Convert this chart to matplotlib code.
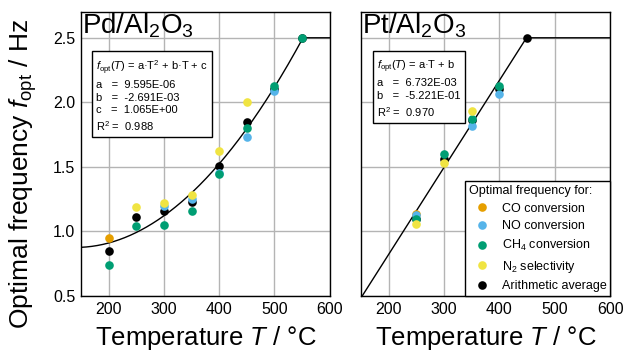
import numpy as np
import matplotlib.pyplot as plt
from matplotlib.lines import Line2D

plt.rcParams['font.family'] = ['Liberation Sans', 'DejaVu Sans']
plt.rcParams['mathtext.fontset'] = 'custom'
plt.rcParams['mathtext.rm'] = 'Liberation Sans'
plt.rcParams['mathtext.it'] = 'Liberation Sans:italic'

nan = np.nan

# Pd/Al2O3 optimal frequencies (Hz)
T_pd = [200, 250, 300, 350, 400, 450, 500, 550]
co_pd = [0.95, nan, nan, nan, nan, nan, nan, nan]
no_pd = [nan, nan, 1.20, 1.25, 1.45, 1.73, 2.085, nan]
ch4_pd = [0.74, 1.045, 1.05, 1.16, 1.445, 1.80, 2.13, 2.5]
n2_pd = [nan, 1.19, 1.22, 1.285, 1.62, 2.0, nan, nan]
avg_pd = [0.85, 1.115, 1.155, 1.23, 1.51, 1.85, 2.10, 2.5]
fit_pd = dict(a=9.595e-06, b=-2.691e-03, c=1.065e+00, r2=0.988)

# Pt/Al2O3 optimal frequencies (Hz)
T_pt = [250, 300, 350, 400, 450]
co_pt = [1.135, nan, nan, nan, nan]
no_pt = [1.13, nan, 1.82, 2.065, nan]
ch4_pt = [1.10, 1.60, 1.87, 2.13, nan]
n2_pt = [1.06, 1.53, 1.93, nan, nan]
avg_pt = [1.10, 1.565, 1.86, 2.10, 2.5]
fit_pt = dict(a=6.732e-03, b=-5.221e-01, r2=0.970)

f_max = 2.5
colors = ['#E69F00', '#56B4E9', '#009E73', '#F0E442', 'black']
labels = ['CO conversion', 'NO conversion', 'CH$_4$ conversion',
          'N$_2$ selectivity', 'Arithmetic average']

fig = plt.figure(figsize=(6.27, 3.52), dpi=100)
ax1 = fig.add_axes([0.129, 0.159, 0.397, 0.807])
ax2 = fig.add_axes([0.576, 0.159, 0.397, 0.807])


def style(ax, title):
    ax.set_xlim(150, 600)
    ax.set_ylim(0.5, 2.7)
    ax.set_xticks([200, 300, 400, 500, 600])
    ax.set_yticks([0.5, 1.0, 1.5, 2.0, 2.5])
    ax.grid(True, color='#b4b4b4', lw=1)
    ax.set_axisbelow(True)
    ax.tick_params(length=0, labelsize=11.5, pad=4)
    for s in ax.spines.values():
        s.set_linewidth(1.0)
    ax.set_xlabel('Temperature $T$ / \u00b0C', fontsize=18.5, labelpad=5)
    ax.text(0.005, 1.0, title, transform=ax.transAxes, fontsize=20,
            va='top', ha='left')


def points(ax, T, series):
    # average goes underneath the individual targets
    ax.plot(T, series[-1], 'o', color=colors[-1], ms=6.2, mec='none', zorder=3)
    for vals, c in zip(series[:-1], colors[:-1]):
        ax.plot(T, vals, 'o', color=c, ms=6.2, mec='none', zorder=4)


# Pd: quadratic fit capped at f_max
T = np.linspace(150, 600, 500)
f = fit_pd['a'] * T**2 + fit_pd['b'] * T + fit_pd['c']
ax1.plot(T, np.minimum(f, f_max), color='black', lw=1, zorder=2)
points(ax1, T_pd, [co_pd, no_pd, ch4_pd, n2_pd, avg_pd])
style(ax1, 'Pd/Al$_2$O$_3$')
ax1.set_ylabel('Optimal frequency $f_\\mathrm{opt}$ / Hz', fontsize=19)
ax1.yaxis.set_label_coords(-0.17, 0.43)
ax1.text(0.06, 0.835,
         '$f_\\mathrm{opt}(T)$ = a\u00b7T$^2$ + b\u00b7T + c\n'
         'a   =  %.3E\nb   =  %.3E\nc   =  %.3E\nR$^2$ =  %.3f'
         % (fit_pd['a'], fit_pd['b'], fit_pd['c'], fit_pd['r2']),
         transform=ax1.transAxes, fontsize=8, va='top', ha='left',
         linespacing=1.35,
         bbox=dict(boxstyle='square,pad=0.35', fc='white', ec='black', lw=1))

# Pt: linear fit capped at f_max
f = fit_pt['a'] * T + fit_pt['b']
ax2.plot(T, np.minimum(f, f_max), color='black', lw=1, zorder=2)
points(ax2, T_pt, [co_pt, no_pt, ch4_pt, n2_pt, avg_pt])
style(ax2, 'Pt/Al$_2$O$_3$')
ax2.set_yticklabels([])
ax2.text(0.065, 0.835,
         '$f_\\mathrm{opt}(T)$ = a\u00b7T + b\n'
         'a   =  %.3E\nb   =  %.3E\nR$^2$ =  %.3f'
         % (fit_pt['a'], fit_pt['b'], fit_pt['r2']),
         transform=ax2.transAxes, fontsize=8, va='top', ha='left',
         linespacing=1.35,
         bbox=dict(boxstyle='square,pad=0.35', fc='white', ec='black', lw=1))

handles = [Line2D([], [], ls='none', marker='o', color=c, ms=6.2, mec='none')
           for c in colors]
leg = ax2.legend(handles, labels, title='Optimal frequency for:',
                 loc='lower right', fontsize=9, title_fontsize=9,
                 frameon=True, fancybox=False, borderaxespad=0,
                 handletextpad=0.6, labelspacing=0.45, borderpad=0.3)
leg.get_frame().set_edgecolor('black')
leg.get_frame().set_linewidth(1)
leg.get_frame().set_alpha(1)
leg._legend_box.align = 'left'

fig.savefig('out.png', dpi=100)
